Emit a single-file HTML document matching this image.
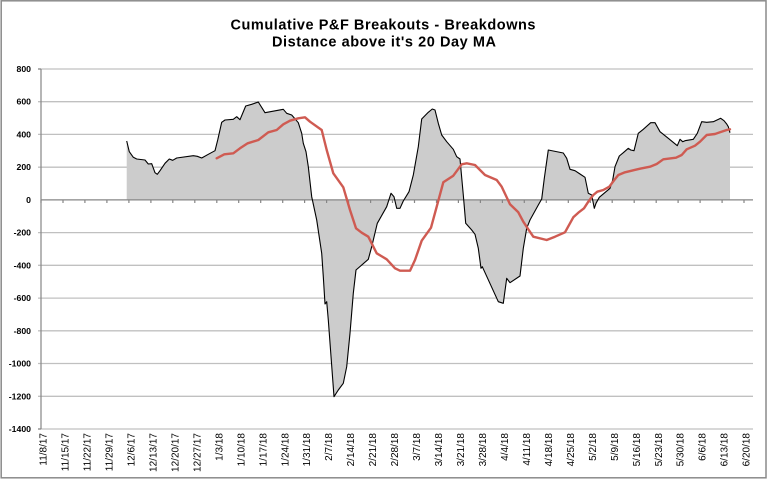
<!DOCTYPE html>
<html><head><meta charset="utf-8"><style>
html,body{margin:0;padding:0;background:#fff;}
svg{display:block;}
text{font-family:"Liberation Sans",Arial,sans-serif;}
</style></head><body>
<svg width="767" height="481" viewBox="0 0 767 481" xmlns="http://www.w3.org/2000/svg">
<rect x="0" y="0" width="767" height="481" fill="#fff"/>
<rect x="1.2" y="0.8" width="764.8" height="477" fill="#fff" stroke="#8a8a8a" stroke-width="1.5"/>
<text x="383" y="29.3" font-size="14.5" font-weight="bold" text-anchor="middle" textLength="305" fill="#000">Cumulative P&amp;F Breakouts - Breakdowns</text>
<text x="384" y="46.7" font-size="14.5" font-weight="bold" text-anchor="middle" textLength="224" fill="#000">Distance above it's 20 Day MA</text>
<g stroke="#c0c0c0" stroke-width="1.3">
<line x1="38" y1="69" x2="753" y2="69"/>
<line x1="38" y1="101.7" x2="753" y2="101.7"/>
<line x1="38" y1="134.4" x2="753" y2="134.4"/>
<line x1="38" y1="167.2" x2="753" y2="167.2"/>
<line x1="38" y1="232.6" x2="753" y2="232.6"/>
<line x1="38" y1="265.3" x2="753" y2="265.3"/>
<line x1="38" y1="298.1" x2="753" y2="298.1"/>
<line x1="38" y1="330.8" x2="753" y2="330.8"/>
<line x1="38" y1="363.5" x2="753" y2="363.5"/>
<line x1="38" y1="396.3" x2="753" y2="396.3"/>
<line x1="38" y1="429" x2="753" y2="429"/>
</g>
<polygon fill="#cccccc" stroke="none" points="126.7,199.9 126.7,141 129.3,151.7 133.3,157.3 136.7,159 145,160 148.3,164 151.7,163.7 155,172.7 157.3,174.3 160,170.7 165,163.3 169.3,159 172.7,160.3 176.7,158 193.3,155.7 197.3,156.3 201.7,158 208.3,154.3 215,150.7 217.7,140 221.7,122.3 225,120 233.3,119.3 236.7,116.7 240,119.7 245.7,106 251.7,104.3 258.3,102 265,112.7 283.3,109.3 286.7,113.3 291.7,115 298.3,122.7 301.7,133.3 303.3,143.3 306,151.7 308.3,166.7 311.7,196.7 316.7,220 321.7,253.3 323.3,276.7 325,304 326.7,301.7 328.3,320 334,396.7 338.3,390 343.3,383.3 346.7,366.7 350,333.3 353.3,293.3 356,270 368.3,259.3 371.7,246.7 377.3,223.3 386.7,206.7 391,193.3 394,196.7 396.7,208.3 400,208.3 403.3,201 409,191.7 413.3,175 418.3,146.7 421.7,119 428.3,112.3 432.3,109 435,110 438.3,123.3 441.7,135 446.7,141.7 453.3,149.3 456.7,156.7 460,159 463.3,195 465.7,223.3 471.7,230 475,234.3 478.3,248.3 481,268.3 482.3,266.7 498.3,301.7 503.3,303.3 506.7,278.3 510,282.7 520,276 523.3,248.3 526.7,228.3 530,220 538.3,205 541.7,199 544.3,178.3 548.3,150 553.3,151 563.3,153 566.7,158.3 570,169.3 575,170.7 580,174 585,177.3 588.3,193.3 591.7,195 594.3,208.3 596,203.3 599.3,197.3 610,188.3 612.7,180 615,166.7 619.3,156 623.3,152.7 628.3,148.3 630.7,150 634,150.7 638.3,133.3 643.3,129.3 650.7,122.7 655,122.7 660,131.7 668.3,138.3 677.3,145.7 680,139.3 682.7,141.7 685,140.7 693.3,139.3 697.3,133.3 701.7,121.7 706.7,122.3 713.3,121.7 720.7,118.3 724,120.7 726.7,124 728.3,126.7 730,132.7 730,199.9"/>
<!-- axes -->
<g stroke="#868686" stroke-width="1.2">
<line x1="41" y1="69" x2="41" y2="429"/>
<line x1="38" y1="69" x2="41" y2="69"/>
<line x1="38" y1="429" x2="41" y2="429"/>
<line x1="41" y1="199.9" x2="753" y2="199.9"/>
</g>
<g stroke="#868686" stroke-width="1.2" id="ticks">
<line x1="41" y1="199.9" x2="41" y2="203"/><line x1="63" y1="199.9" x2="63" y2="203"/><line x1="84.9" y1="199.9" x2="84.9" y2="203"/><line x1="106.9" y1="199.9" x2="106.9" y2="203"/><line x1="128.9" y1="199.9" x2="128.9" y2="203"/><line x1="150.9" y1="199.9" x2="150.9" y2="203"/><line x1="172.8" y1="199.9" x2="172.8" y2="203"/><line x1="194.8" y1="199.9" x2="194.8" y2="203"/><line x1="216.8" y1="199.9" x2="216.8" y2="203"/><line x1="238.7" y1="199.9" x2="238.7" y2="203"/><line x1="260.7" y1="199.9" x2="260.7" y2="203"/><line x1="282.7" y1="199.9" x2="282.7" y2="203"/><line x1="304.6" y1="199.9" x2="304.6" y2="203"/><line x1="326.6" y1="199.9" x2="326.6" y2="203"/><line x1="348.6" y1="199.9" x2="348.6" y2="203"/><line x1="370.6" y1="199.9" x2="370.6" y2="203"/><line x1="392.5" y1="199.9" x2="392.5" y2="203"/><line x1="414.5" y1="199.9" x2="414.5" y2="203"/><line x1="436.5" y1="199.9" x2="436.5" y2="203"/><line x1="458.4" y1="199.9" x2="458.4" y2="203"/><line x1="480.4" y1="199.9" x2="480.4" y2="203"/><line x1="502.4" y1="199.9" x2="502.4" y2="203"/><line x1="524.3" y1="199.9" x2="524.3" y2="203"/><line x1="546.3" y1="199.9" x2="546.3" y2="203"/><line x1="568.3" y1="199.9" x2="568.3" y2="203"/><line x1="590.3" y1="199.9" x2="590.3" y2="203"/><line x1="612.2" y1="199.9" x2="612.2" y2="203"/><line x1="634.2" y1="199.9" x2="634.2" y2="203"/><line x1="656.2" y1="199.9" x2="656.2" y2="203"/><line x1="678.1" y1="199.9" x2="678.1" y2="203"/><line x1="700.1" y1="199.9" x2="700.1" y2="203"/><line x1="722.1" y1="199.9" x2="722.1" y2="203"/><line x1="744" y1="199.9" x2="744" y2="203"/>
</g>
<polyline fill="none" stroke="#000" stroke-width="1.1" stroke-linejoin="round" points="126.7,141 129.3,151.7 133.3,157.3 136.7,159 145,160 148.3,164 151.7,163.7 155,172.7 157.3,174.3 160,170.7 165,163.3 169.3,159 172.7,160.3 176.7,158 193.3,155.7 197.3,156.3 201.7,158 208.3,154.3 215,150.7 217.7,140 221.7,122.3 225,120 233.3,119.3 236.7,116.7 240,119.7 245.7,106 251.7,104.3 258.3,102 265,112.7 283.3,109.3 286.7,113.3 291.7,115 298.3,122.7 301.7,133.3 303.3,143.3 306,151.7 308.3,166.7 311.7,196.7 316.7,220 321.7,253.3 323.3,276.7 325,304 326.7,301.7 328.3,320 334,396.7 338.3,390 343.3,383.3 346.7,366.7 350,333.3 353.3,293.3 356,270 368.3,259.3 371.7,246.7 377.3,223.3 386.7,206.7 391,193.3 394,196.7 396.7,208.3 400,208.3 403.3,201 409,191.7 413.3,175 418.3,146.7 421.7,119 428.3,112.3 432.3,109 435,110 438.3,123.3 441.7,135 446.7,141.7 453.3,149.3 456.7,156.7 460,159 463.3,195 465.7,223.3 471.7,230 475,234.3 478.3,248.3 481,268.3 482.3,266.7 498.3,301.7 503.3,303.3 506.7,278.3 510,282.7 520,276 523.3,248.3 526.7,228.3 530,220 538.3,205 541.7,199 544.3,178.3 548.3,150 553.3,151 563.3,153 566.7,158.3 570,169.3 575,170.7 580,174 585,177.3 588.3,193.3 591.7,195 594.3,208.3 596,203.3 599.3,197.3 610,188.3 612.7,180 615,166.7 619.3,156 623.3,152.7 628.3,148.3 630.7,150 634,150.7 638.3,133.3 643.3,129.3 650.7,122.7 655,122.7 660,131.7 668.3,138.3 677.3,145.7 680,139.3 682.7,141.7 685,140.7 693.3,139.3 697.3,133.3 701.7,121.7 706.7,122.3 713.3,121.7 720.7,118.3 724,120.7 726.7,124 728.3,126.7 730,132.7"/>
<polyline fill="none" stroke="#cf5b52" stroke-width="2.4" stroke-linejoin="round" stroke-linecap="round" points="216.7,158.3 224.3,154.3 233.3,153.3 240,148.3 247.7,143.3 258.3,140 268.3,132.3 276.7,130 283.3,124.3 290,120.7 298.3,118.3 305,117.3 310,121.7 321.7,130 326.7,150 333.3,173.3 343.3,187.3 350,210 356,228.3 361.7,232.7 368.3,236.7 376.7,253.3 386.7,259.3 395,268.3 400,270.7 410,270.7 415,260 421.7,240.7 431,227.7 436.7,206.7 443.3,182.3 453.3,175.7 461.7,164.3 466.7,163.3 475,165 485,175 496.7,180 501.7,186.7 510,204.3 518.3,212.3 523.3,221.7 528.3,229.3 533.3,236.7 546.7,240 555,236.7 565,232.3 573.3,217.3 578.3,212.7 584,208.3 588.3,201.7 593.3,195 597.3,191.7 603.3,190 609.3,186.7 614.3,180 618.3,175 625,172.3 631.7,170.7 640,168.7 650,166.7 656.7,164 663.3,159.3 676,157.7 681.7,155 686.7,149.3 695,145.7 700,141.7 706.7,135 715,134 720,132.3 726.7,130 730,129.3"/>
<!-- y labels -->
<g font-size="8.7" font-weight="bold" text-anchor="end" fill="#000">
<text x="31" y="72">800</text>
<text x="31" y="104.7">600</text>
<text x="31" y="137.4">400</text>
<text x="31" y="170.2">200</text>
<text x="31" y="202.9">0</text>
<text x="31" y="235.6">-200</text>
<text x="31" y="268.3">-400</text>
<text x="31" y="301.1">-600</text>
<text x="31" y="333.8">-800</text>
<text x="31" y="366.5">-1000</text>
<text x="31" y="399.3">-1200</text>
<text x="31" y="432">-1400</text>
</g>
<!-- x labels -->
<g font-size="10" text-anchor="end" fill="#000">
<text transform="translate(46.6,433) rotate(-90)">11/8/17</text>
<text transform="translate(68.6,433) rotate(-90)">11/15/17</text>
<text transform="translate(90.5,433) rotate(-90)">11/22/17</text>
<text transform="translate(112.5,433) rotate(-90)">11/29/17</text>
<text transform="translate(134.5,433) rotate(-90)">12/6/17</text>
<text transform="translate(156.5,433) rotate(-90)">12/13/17</text>
<text transform="translate(178.4,433) rotate(-90)">12/20/17</text>
<text transform="translate(200.4,433) rotate(-90)">12/27/17</text>
<text transform="translate(222.4,433) rotate(-90)">1/3/18</text>
<text transform="translate(244.3,433) rotate(-90)">1/10/18</text>
<text transform="translate(266.3,433) rotate(-90)">1/17/18</text>
<text transform="translate(288.3,433) rotate(-90)">1/24/18</text>
<text transform="translate(310.2,433) rotate(-90)">1/31/18</text>
<text transform="translate(332.2,433) rotate(-90)">2/7/18</text>
<text transform="translate(354.2,433) rotate(-90)">2/14/18</text>
<text transform="translate(376.2,433) rotate(-90)">2/21/18</text>
<text transform="translate(398.1,433) rotate(-90)">2/28/18</text>
<text transform="translate(420.1,433) rotate(-90)">3/7/18</text>
<text transform="translate(442.1,433) rotate(-90)">3/14/18</text>
<text transform="translate(464,433) rotate(-90)">3/21/18</text>
<text transform="translate(486,433) rotate(-90)">3/28/18</text>
<text transform="translate(508,433) rotate(-90)">4/4/18</text>
<text transform="translate(529.9,433) rotate(-90)">4/11/18</text>
<text transform="translate(551.9,433) rotate(-90)">4/18/18</text>
<text transform="translate(573.9,433) rotate(-90)">4/25/18</text>
<text transform="translate(595.9,433) rotate(-90)">5/2/18</text>
<text transform="translate(617.8,433) rotate(-90)">5/9/18</text>
<text transform="translate(639.8,433) rotate(-90)">5/16/18</text>
<text transform="translate(661.8,433) rotate(-90)">5/23/18</text>
<text transform="translate(683.7,433) rotate(-90)">5/30/18</text>
<text transform="translate(705.7,433) rotate(-90)">6/6/18</text>
<text transform="translate(727.7,433) rotate(-90)">6/13/18</text>
<text transform="translate(749.6,433) rotate(-90)">6/20/18</text>
</g>
</svg>
</body></html>
